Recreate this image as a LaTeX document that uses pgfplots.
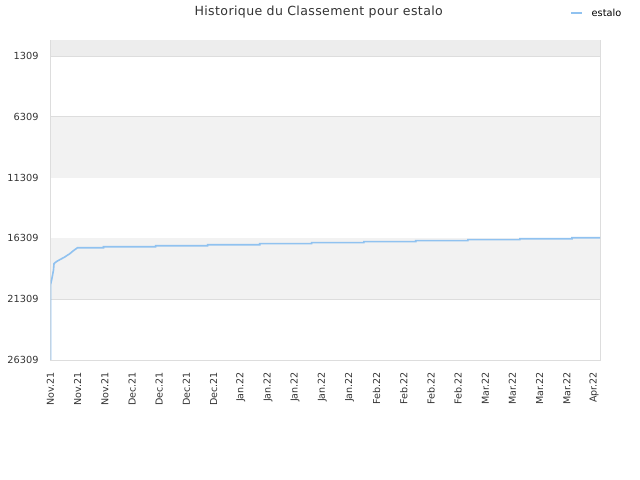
\documentclass[border=0pt]{standalone}
\usepackage{pgfplots}
\pgfplotsset{compat=1.18}
\usepackage{fontspec}
\setmainfont{DejaVu Sans}
\definecolor{bandA}{HTML}{F2F2F2}
\definecolor{bandTop}{HTML}{EDEDED}
\definecolor{gridc}{HTML}{DDDDDD}
\definecolor{linec}{HTML}{90C2F0}
\definecolor{txt}{HTML}{333333}
\begin{document}
\begin{tikzpicture}[x=1bp,y=1bp]
\path[use as bounding box] (0,0) rectangle (640,480);
\begin{axis}[
  at={(50.5bp,120bp)}, anchor=south west,
  scale only axis, width=549.5bp, height=320bp,
  y dir=reverse,
  ymin=0, ymax=26309,
  xmin=0, xmax=20.22,
  scaled y ticks=false,
  ytick={1309,6309,11309,16309,21309,26309},
  yticklabels={1309,6309,11309,16309,21309,26309},
  xtick={0,...,20},
  xticklabels={Nov.21,Nov.21,Nov.21,Dec.21,Dec.21,Dec.21,Dec.21,Jan.22,Jan.22,Jan.22,Jan.22,Jan.22,Feb.22,Feb.22,Feb.22,Feb.22,Mar.22,Mar.22,Mar.22,Mar.22,Apr.22},
  x tick label style={rotate=90, anchor=east, font=\fontsize{9.6}{11}\selectfont, text=txt},
  y tick label style={font=\fontsize{9.8}{11}\selectfont, text=txt},
  xticklabel shift=8.5bp,
  yticklabel shift=8.5bp,
  tick style={draw=none},
  axis line style={draw=gridc},
  ymajorgrids, grid style={draw=gridc, line width=0.8bp},
  clip=true,
]
\fill[bandTop] (axis cs:0,0) rectangle (axis cs:20.22,1309);
\fill[bandA] (axis cs:0,6309) rectangle (axis cs:20.22,11309);
\fill[bandA] (axis cs:0,16309) rectangle (axis cs:20.22,21309);
\addplot[linec, line width=1.6bp, no marks] coordinates {
(0,26309) (0,20148) (0.04,19737) (0.07,19408) (0.11,18915) (0.13,18381)
(0.22,18217) (0.33,18077) (0.52,17847) (0.70,17584) (0.85,17313) (0.99,17083)
(1.95,17083) (1.95,17001) (3.87,17001) (3.87,16919) (5.78,16919) (5.78,16836)
(7.70,16836) (7.70,16738) (9.61,16738) (9.61,16656) (11.53,16656) (11.53,16574)
(13.44,16574) (13.44,16492) (15.36,16492) (15.36,16410) (17.27,16410) (17.27,16344)
(19.19,16344) (19.19,16262) (20.22,16262)
};
\end{axis}
\node[text=txt, font=\fontsize{12.6}{15}\selectfont, inner sep=0] at (318.7,467.5) {\addfontfeature{LetterSpace=3}Historique du Classement pour estalo};
\draw[linec, line width=2bp] (571,466.7) -- (581.7,466.7);
\node[text=black, anchor=west, font=\fontsize{9.8}{11}\selectfont, inner sep=0] at (591.5,467.3) {estalo};
\end{tikzpicture}
\end{document}
